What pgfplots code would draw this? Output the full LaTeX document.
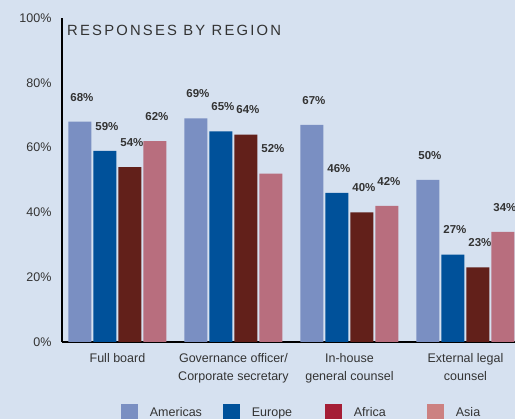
\documentclass[border=0pt]{standalone}
\usepackage{pgfplots}
\pgfplotsset{compat=1.18}
\usepackage{fontspec}
\setmainfont{Liberation Sans}
\newfontfamily\titlefont[LetterSpace=15]{Liberation Sans}

\definecolor{bgblue}{HTML}{D6E1F0}
\definecolor{amer}{HTML}{7A8FC2}
\definecolor{euro}{HTML}{00519A}
\definecolor{afri}{HTML}{62201A}
\definecolor{asia}{HTML}{B86E7E}
\definecolor{afriL}{HTML}{A51E36}
\definecolor{asiaL}{HTML}{CC8181}
\definecolor{txt}{HTML}{333333}

\begin{document}
\begin{tikzpicture}[x=1pt,y=1pt]
\clip (0,0) rectangle (515,419);
\fill[bgblue] (0,0) rectangle (515,419);
\begin{axis}[
	at={(62pt,77pt)}, anchor=south west,
	scale only axis, width=453pt, height=324pt,
	xmin=-0.478, xmax=3.427, ymin=0, ymax=100,
	axis lines=left, axis line style={-, line width=1.3pt, black},
	major tick length=0pt,
	ytick={0,20,40,60,80,100},
	yticklabels={0\%,20\%,40\%,60\%,80\%,100\%},
	y tick label style={font=\fontsize{12.5}{14}\selectfont, text=txt, xshift=-7pt},
	xtick={0,1,2,3},
	xticklabels={Full board,{Governance officer/\\Corporate secretary},{In-house\\general counsel},{External legal\\counsel}},
	x tick label style={font=\fontsize{12.5}{18}\selectfont, text=txt, align=center, yshift=-8pt},
	/pgf/number format/assume math mode=true,
	ybar, bar width=23pt,
	nodes near coords={\pgfmathprintnumber{\pgfplotspointmeta}\%},
	every node near coord/.append style={font=\bfseries\fontsize{11.5}{13}\selectfont, text=txt, yshift=17pt, xshift=2pt},
	legend image code/.code={\fill[#1] (0pt,-8.5pt) rectangle (17pt,8.5pt);},
	legend style={at={(0.130,-0.219)}, anchor=west, draw=none, fill=none,
		inner sep=0pt, outer sep=0pt, legend columns=-1,
		font=\fontsize{12.5}{14}\selectfont, text=txt,
		/tikz/every odd column/.append style={column sep=10pt}},
]
\addplot[fill=amer, draw=none, bar shift=-37.5pt, forget plot] coordinates {(0,68) (1,69) (2,67) (3,50)};
\addplot[fill=euro, draw=none, bar shift=-12.5pt, forget plot] coordinates {(0,59) (1,65) (2,46) (3,27)};
\addplot[fill=afri, draw=none, bar shift=12.5pt, forget plot] coordinates {(0,54) (1,64) (2,40) (3,23)};
\addplot[fill=asia, draw=none, bar shift=37.5pt, forget plot] coordinates {(0,62) (1,52) (2,42) (3,34)};
\addlegendimage{fill=amer, draw=none}
\addlegendentry{\makebox[71pt][l]{Americas}}
\addlegendimage{fill=euro, draw=none}
\addlegendentry{\makebox[71pt][l]{Europe}}
\addlegendimage{fill=afriL, draw=none}
\addlegendentry{\makebox[71pt][l]{Africa}}
\addlegendimage{fill=asiaL, draw=none}
\addlegendentry{\makebox[71pt][l]{Asia}}
\node[anchor=west, inner sep=0pt, text=txt, font=\titlefont\fontsize{14.8}{16}\selectfont]
	at (rel axis cs:0.011,0.963) {RESPONSES BY REGION};
\end{axis}
\end{tikzpicture}
\end{document}
